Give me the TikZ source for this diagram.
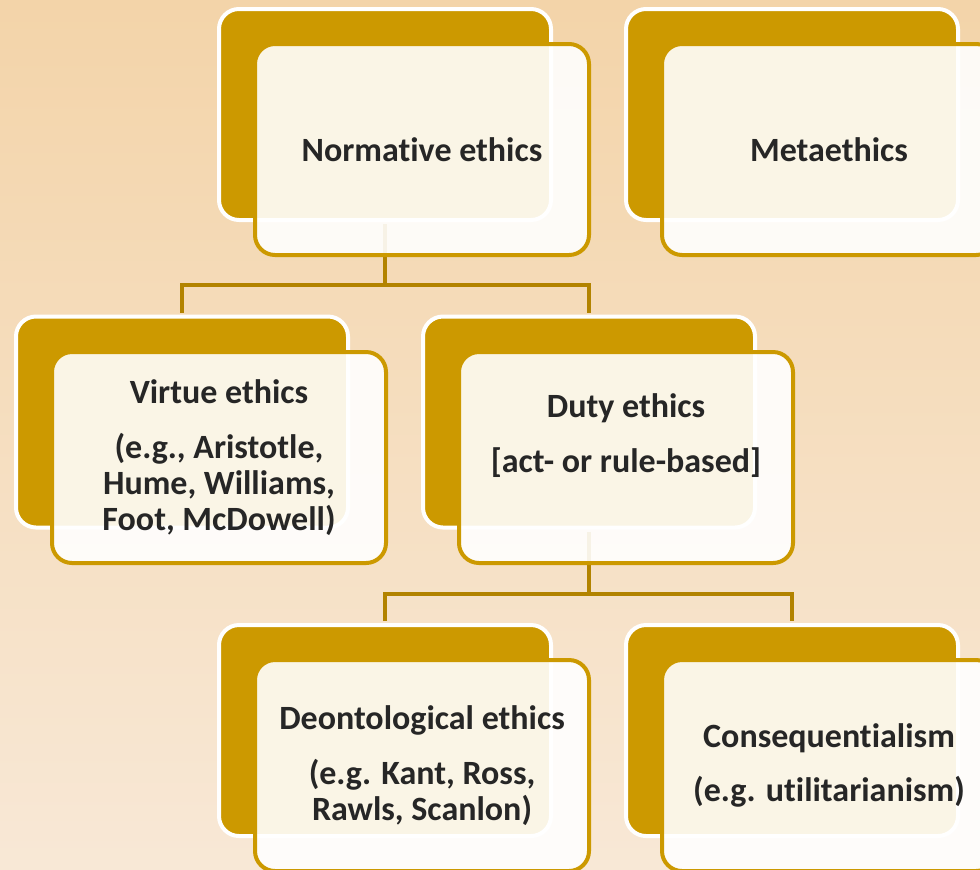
\documentclass[tikz,border=0pt]{standalone}
\usepackage{fontspec}
\setmainfont{Carlito}[Ligatures=NoCommon,RawFeature={-liga;-clig;-calt;-dlig}]
\definecolor{bgtop}{RGB}{243,212,169}
\definecolor{bgbot}{RGB}{248,232,214}
\definecolor{gold}{RGB}{204,153,0}
\definecolor{linkgold}{RGB}{178,131,0}
\definecolor{ink}{RGB}{38,38,38}
\begin{document}
\begin{tikzpicture}[x=0.75pt,y=-0.75pt,
  backbox/.style={draw=white,fill=gold,line width=3pt,rounded corners=15pt,
    minimum width=249pt,minimum height=158.25pt,inner sep=0pt},
  frontbox/.style={draw=gold,fill=white,fill opacity=0.9,text opacity=1,
    line width=3pt,rounded corners=15pt,minimum width=250.5pt,
    minimum height=158.25pt,inner sep=0pt,align=center,text=ink,
    font=\fontsize{25.5}{27}\selectfont\bfseries},
  link/.style={draw=linkgold,line width=3pt,shorten <=1.5pt,shorten >=1.5pt}]
\clip (0,0) rectangle (980,869);
\fill[top color=bgtop,bottom color=bgbot] (0,0) rectangle (980,869);

% joints of the tree
\coordinate (j1) at (385,285);
\coordinate (j2) at (589,594);

% back plates
\node[backbox] (normB) at (385,114.5) {};
\node[backbox] (metaB) at (792,114.5) {};
\node[backbox] (virtB) at (182,422) {};
\node[backbox] (dutyB) at (589,422) {};
\node[backbox] (deonB) at (385,730.5) {};
\node[backbox] (consB) at (792,730.5) {};

% connectors
\draw[link] (normB.south) -- (j1);
\draw[link] (virtB.north) |- (j1) -| (dutyB.north);
\draw[link] (dutyB.south) -- (j2);
\draw[link] (deonB.north) |- (j2) -| (consB.north);

% front plates with the texts
\node[frontbox] (normF) at (422,149.5) {Normative ethics};
\node[frontbox] (metaF) at (829,149.5) {Metaethics};
\node[frontbox] (virtF) at (219,457.5) {Virtue ethics\\[14pt](e.g., Aristotle,\\Hume, Williams,\\Foot, McDowell)};
\node[frontbox] (dutyF) at (626,457.5) {Duty ethics\\[14pt][act- or rule-based]\\[10pt]\mbox{}};
\node[frontbox] (deonF) at (422,765.5) {Deontological ethics\\[14pt](e.g. Kant, Ross,\\Rawls, Scanlon)};
\node[frontbox] (consF) at (829,765.5) {Consequentialism\\[14pt](e.g. utilitarianism)};
\end{tikzpicture}
\end{document}
